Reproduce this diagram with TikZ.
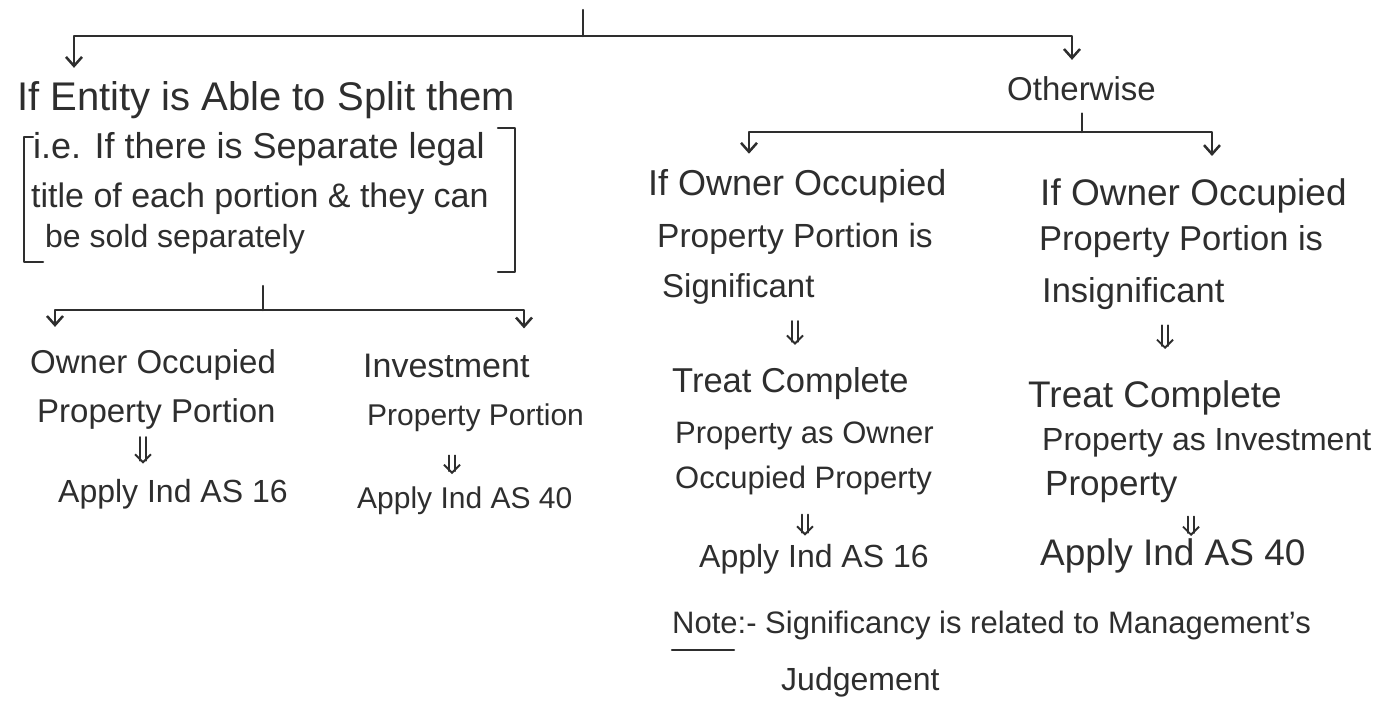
\documentclass[tikz,border=0pt]{standalone}
\usepackage{fontspec}
\setmainfont{Liberation Sans}
\usetikzlibrary{arrows.meta,calc}
\definecolor{ink}{HTML}{2E2E2E}
\begin{document}
\begin{tikzpicture}[x=1pt,y=-1pt,
  every node/.style={inner sep=0pt, text=ink},
  txt/.style={anchor=base west},
  fs/.style={font=\fontsize{#1}{#1}\selectfont},
  link/.style={draw=ink, line width=2.5pt, line cap=round, line join=round},
  tip/.style={link, -{Straight Barb[length=9pt,width=16pt]}},
  dshaft/.style={draw=ink, line width=1.8pt, line cap=round},
  dhead/.style={draw=ink, line width=1.9pt, line cap=round, -{Straight Barb[length=8pt,width=16pt]}}
]
\newcommand{\dblarrow}[2]{%
  \draw[dshaft] ([xshift=-2.8pt]#1) -- ($([xshift=-2.8pt]#2)+(0,-3)$);
  \draw[dshaft] ([xshift=2.8pt]#1) -- ($([xshift=2.8pt]#2)+(0,-3)$);
  \draw[dhead] ($(#2)+(0,-2)$) -- (#2);}
\useasboundingbox (0,0) rectangle (1378,704);
\fill[white] (0,0) rectangle (1378,704);

% ---------- left branch ----------
\node[txt,fs=40] (split) at (17,110) {If Entity is Able to Split them};
\node[txt,fs=36] (ie1) at (33,158) {i.e. If there is Separate legal};
\node[txt,fs=34] (ie2) at (31,207) {title of each portion \& they can};
\node[txt,fs=32] (ie3) at (45,247) {be sold separately};
\draw[link] (33,137) -- (24,137) -- (24,262) -- (43,262);
\draw[link] (498,128) -- (515,128) -- (515,272) -- (498,272);

\node[txt,fs=33] (oo1) at (30,373) {Owner Occupied};
\node[txt,fs=33] (oo2) at (37,422) {Property Portion};
\node[txt,fs=32] (oo16) at (58,502) {Apply Ind AS 16};
\node[txt,fs=34] (inv1) at (363,377) {Investment};
\node[txt,fs=30] (inv2) at (367,425) {Property Portion};
\node[txt,fs=30] (inv40) at (357,508) {Apply Ind AS 40};

% ---------- right branch ----------
\node[txt,fs=33] (oth) at (1007,100) {Otherwise};

\node[txt,fs=36] (sa1) at (648,195) {If Owner Occupied};
\node[txt,fs=33.5] (sa2) at (657,247) {Property Portion is};
\node[txt,fs=33] (sa3) at (662,297) {Significant};
\node[txt,fs=34.5] (ta1) at (672,392) {Treat Complete};
\node[txt,fs=31] (ta2) at (675,443) {Property as Owner};
\node[txt,fs=31] (ta3) at (675,488) {Occupied Property};
\node[txt,fs=32] (aa16) at (699,567) {Apply Ind AS 16};

\node[txt,fs=37] (sb1) at (1040,205) {If Owner Occupied};
\node[txt,fs=34.5] (sb2) at (1039,250) {Property Portion is};
\node[txt,fs=34.5] (sb3) at (1042,302) {Insignificant};
\node[txt,fs=37] (tb1) at (1028,407) {Treat Complete};
\node[txt,fs=32] (tb2) at (1042,450) {Property as Investment};
\node[txt,fs=35] (tb3) at (1045,495) {Property};
\node[txt,fs=37] (bb40) at (1040,565) {Apply Ind AS 40};

\node[txt,fs=31] (note1) at (672,633) {Note:- Significancy is related to Management's};
\node[txt,fs=32] (note2) at (781,690) {Judgement};
\draw[link, line width=2.2pt] (note1.base west) ++(0,17) -- ++(62,0);

% ---------- tree connectors ----------
\coordinate (root) at (583,10);
\coordinate (j1) at (583,36);
\coordinate (xL) at (74,0);
\coordinate (xR) at (1072,0);
\draw[link] (root) -- (j1);
\draw[tip, shorten >=13pt] (j1) -| (split.north -| xL);
\draw[tip, shorten >=16pt] (j1) -| (oth.north -| xR);

\coordinate (r2) at (263,286);
\coordinate (j2) at (263,310);
\coordinate (xoo) at (55,0);
\coordinate (xinv) at (524,0);
\draw[link] (r2) -- (j2);
\draw[tip, shorten >=22pt] (j2) -| (oo1.north -| xoo);
\draw[tip, shorten >=25pt] (j2) -| (inv1.north -| xinv);

\coordinate (x3) at (1082,0);
\coordinate (j3) at (1082,132);
\coordinate (xsa) at (749,0);
\coordinate (xsb) at (1212,0);
\draw[link, shorten <=13pt] (oth.south -| x3) -- (j3);
\draw[tip, shorten >=15pt] (j3) -| (sa1.north -| xsa);
\draw[tip, shorten >=22pt] (j3) -| (sb1.north -| xsb);

% ---------- double arrows ----------
\coordinate (da) at (143,0);
\coordinate (db) at (452,0);
\coordinate (dc) at (795,0);
\coordinate (dd) at (805,0);
\coordinate (de) at (1165,0);
\coordinate (df) at (1191,0);
\coordinate (a1) at ($(oo2.south -| da)+(0,8)$);
\coordinate (a2) at ($(oo16.north -| da)+(0,-15)$);
\coordinate (b1) at ($(inv2.south -| db)+(0,24)$);
\coordinate (b2) at ($(inv40.north -| db)+(0,-12)$);
\coordinate (c1) at ($(sa3.south -| dc)+(0,17)$);
\coordinate (c2) at ($(ta1.north -| dc)+(0,-22)$);
\coordinate (d1) at ($(ta3.south -| dd)+(0,20)$);
\coordinate (d2) at ($(aa16.north -| dd)+(0,-8)$);
\coordinate (e1) at ($(sb3.south -| de)+(0,16)$);
\coordinate (e2) at ($(tb1.north -| de)+(0,-31)$);
\coordinate (f1) at ($(tb3.south -| df)+(0,14)$);
\coordinate (f2) at ($(bb40.north -| df)+(0,-2)$);
\dblarrow{a1}{a2}
\dblarrow{b1}{b2}
\dblarrow{c1}{c2}
\dblarrow{d1}{d2}
\dblarrow{e1}{e2}
\dblarrow{f1}{f2}
\end{tikzpicture}
\end{document}
